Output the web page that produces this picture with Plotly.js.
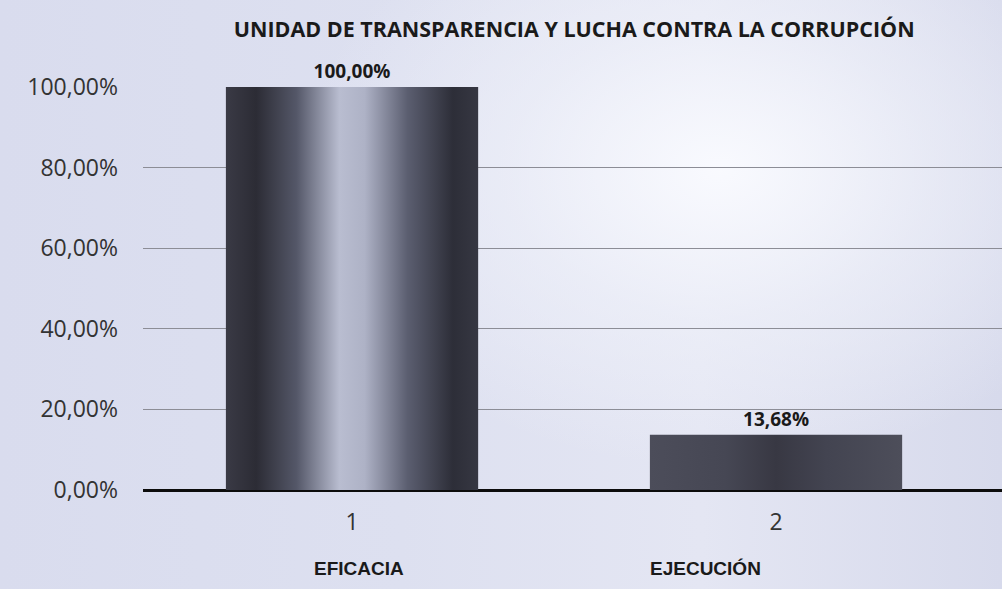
<!DOCTYPE html>
<html>
<head>
<meta charset="utf-8">
<script src="https://cdn.plot.ly/plotly-3.0.1.min.js"></script>
<style>
html,body{margin:0;padding:0;}
body{width:1002px;height:589px;overflow:hidden;
background:
 radial-gradient(ellipse 420px 300px at 720px 170px, rgba(250,251,255,0.95) 0%, rgba(240,242,250,0.6) 50%, rgba(220,223,238,0) 100%),
 linear-gradient(to right, #d9dcee 0%, #dde0f0 40%, #e4e6f3 70%, #d7daec 100%);}
#chart{width:1002px;height:589px;}
</style>
</head>
<body>
<div id="chart"></div>
<script>
var xValues = [1, 2];
var categories = ["EFICACIA", "EJECUCIÓN"];
var values = [1.0, 0.1368];
var titleText = "UNIDAD DE TRANSPARENCIA Y LUCHA CONTRA LA CORRUPCIÓN";

var trace = {
  type: "bar",
  x: xValues,
  y: values,
  width: 0.595,
  marker: {color: ["#6b6e80", "#4a4b57"], line: {width: 0}},
  texttemplate: "%{y:.2%}",
  textposition: "outside",
  cliponaxis: false,
  textfont: {family: "Open Sans, sans-serif", size: 19, color: "#1a1a1a", weight: "bold"},
  hoverinfo: "none"
};

var catShift = [7, -71];
var annotations = categories.map(function(c, i){
  return {
    x: xValues[i], xref: "x", y: -0.195, yref: "paper",
    xshift: catShift[i], yanchor: "middle", xanchor: "center",
    text: "<b>" + c + "</b>", showarrow: false,
    font: {family: "Liberation Sans, Arial, sans-serif", size: 19, color: "#1a1a1a"}
  };
});

var layout = {
  width: 1002, height: 589,
  paper_bgcolor: "rgba(0,0,0,0)",
  plot_bgcolor: "rgba(0,0,0,0)",
  separators: ",.",
  margin: {l: 143, r: 0, t: 87, b: 99},
  showlegend: false,
  title: {text: "<b>" + titleText + "</b>", x: 0.573, xanchor: "center", y: 0.95, yanchor: "middle",
          font: {family: "Open Sans, sans-serif", size: 21.5, color: "#1a1a1a"}},
  xaxis: {range: [0.507, 2.533], tickvals: xValues, ticktext: xValues.map(String),
          showgrid: false, zeroline: false, showline: false, ticks: "",
          tickfont: {family: "Open Sans, sans-serif", size: 23, color: "#333"}, ticklabelstandoff: 16},
  yaxis: {range: [0, 1.0], dtick: 0.2, tickformat: ".2%", showgrid: true,
          gridcolor: "#8c8d96", gridwidth: 1, zeroline: true, zerolinecolor: "#0c0c0c", zerolinewidth: 3,
          showline: false, ticks: "", ticklabelstandoff: 24,
          tickfont: {family: "Open Sans, sans-serif", size: 23, color: "#333"}},
  annotations: annotations
};

Plotly.newPlot("chart", [trace], layout, {displayModeBar: false, staticPlot: true}).then(function(gd){
  var svg = gd.querySelector("svg.main-svg");
  var ns = "http://www.w3.org/2000/svg";
  var defs = svg.querySelector("defs") || svg.insertBefore(document.createElementNS(ns, "defs"), svg.firstChild);
  var stopsSets = [
    [[0,"#3a3a45"],[0.12,"#2c2c35"],[0.28,"#545768"],[0.45,"#b9bdd0"],[0.55,"#aeb2c6"],[0.72,"#5b5e70"],[0.9,"#2d2e38"],[1,"#363742"]],
    [[0,"#4c4d5a"],[0.3,"#464754"],[0.5,"#383843"],[0.7,"#434451"],[1,"#4d4e5a"]]
  ];
  var paths = gd.querySelectorAll(".barlayer .point path");
  paths.forEach(function(p, i){
    var g = document.createElementNS(ns, "linearGradient");
    g.setAttribute("id", "bargrad" + i);
    g.setAttribute("x1", "0"); g.setAttribute("x2", "1"); g.setAttribute("y1", "0"); g.setAttribute("y2", "0");
    stopsSets[i % stopsSets.length].forEach(function(s){
      var st = document.createElementNS(ns, "stop");
      st.setAttribute("offset", s[0]); st.setAttribute("stop-color", s[1]);
      g.appendChild(st);
    });
    defs.appendChild(g);
    p.style.fill = "url(#bargrad" + i + ")";
  });
});
</script>
</body>
</html>
